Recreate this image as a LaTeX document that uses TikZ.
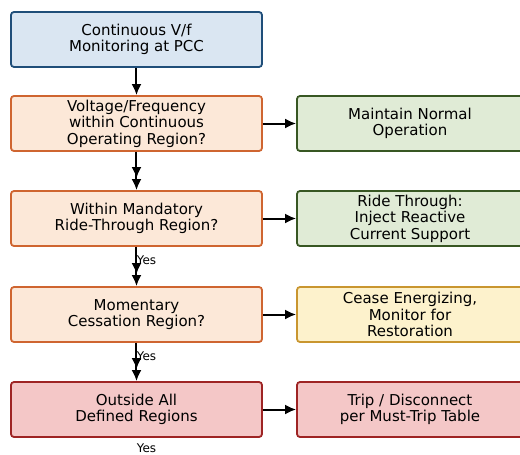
\documentclass[tikz,border=0pt]{standalone}
\usepackage{fontspec}
\setmainfont{DejaVu Sans}
\usetikzlibrary{arrows.meta,positioning}

\definecolor{monfill}{HTML}{DAE6F2}
\definecolor{mondraw}{HTML}{1F4E79}
\definecolor{askfill}{HTML}{FCE8D8}
\definecolor{askdraw}{HTML}{CF6530}
\definecolor{tripfill}{HTML}{F4C7C7}
\definecolor{tripdraw}{HTML}{9E2424}
\definecolor{okfill}{HTML}{E0EBD6}
\definecolor{okdraw}{HTML}{385723}
\definecolor{waitfill}{HTML}{FDF2CC}
\definecolor{waitdraw}{HTML}{C9962F}

\begin{document}
\begin{tikzpicture}[x=1pt,y=1pt,node distance=95pt,auto,>={Latex[length=11pt,width=10pt]}]
		\tikzstyle{box} = [rectangle, draw, line width=1.8pt, rounded corners=3pt, minimum width=251pt, minimum height=55pt, align=center, inner sep=2pt, font=\fontsize{15}{16.5}\selectfont]
		\tikzstyle{act} = [box, minimum width=226pt]
		\tikzstyle{yes} = [anchor=center, inner sep=0pt, font=\fontsize{12}{14}\selectfont]
		\tikzstyle{flow} = [->, draw=black, line width=2pt]
		\useasboundingbox (-136.5,39.5) rectangle (383.5,-415.5);
		\node (mon) [box, fill=monfill, draw=mondraw] {Continuous V/f\\Monitoring at PCC};
		\node (cont) [box, fill=askfill, draw=askdraw, below of=mon, node distance=84pt] {Voltage/Frequency\\within Continuous\\Operating Region?};
		\node (mand) [box, fill=askfill, draw=askdraw, below of=cont] {Within Mandatory\\Ride-Through Region?};
		\node (mom) [box, fill=askfill, draw=askdraw, below of=mand, node distance=96pt] {Momentary\\Cessation Region?};
		\node (out) [box, fill=tripfill, draw=tripdraw, below of=mom] {Outside All\\Defined Regions};
		\node (normal) [act, fill=okfill, draw=okdraw, right of=cont, node distance=273.5pt] {Maintain Normal\\Operation};
		\node (ride) [act, fill=okfill, draw=okdraw, right of=mand, node distance=273.5pt] {Ride Through:\\Inject Reactive\\Current Support};
		\node (cease) [act, fill=waitfill, draw=waitdraw, right of=mom, node distance=273.5pt] {Cease Energizing,\\Monitor for\\Restoration};
		\node (trip) [act, fill=tripfill, draw=tripdraw, right of=out, node distance=273.5pt] {Trip / Disconnect\\per Must-Trip Table};
		\coordinate (mand-stop) at ([yshift=12pt]mand.north);
		\coordinate (mom-stop) at ([yshift=12pt]mom.north);
		\coordinate (out-stop) at ([yshift=12pt]out.north);
		\node (yes-out) [yes] at ([xshift=10pt,yshift=-10.5pt]out.south) {Yes};
		\path[flow] (mon) edge node {} (cont);
		\path[flow] (cont) edge node {} (mand);
		\path[flow] (cont) edge node {} (mand-stop);
		\path[flow] (mand) edge node {} (mom);
		\path[flow] (mand) edge node [yes, pos=0.5, xshift=10pt] {Yes} (mom-stop);
		\path[flow] (mom) edge node {} (out);
		\path[flow] (mom) edge node [yes, pos=0.5, xshift=10pt] {Yes} (out-stop);
		\path[flow] (cont) edge node {} (normal);
		\path[flow] (mand) edge node {} (ride);
		\path[flow] (mom) edge node {} (cease);
		\path[flow] (out) edge node {} (trip);
	\end{tikzpicture}
\end{document}
